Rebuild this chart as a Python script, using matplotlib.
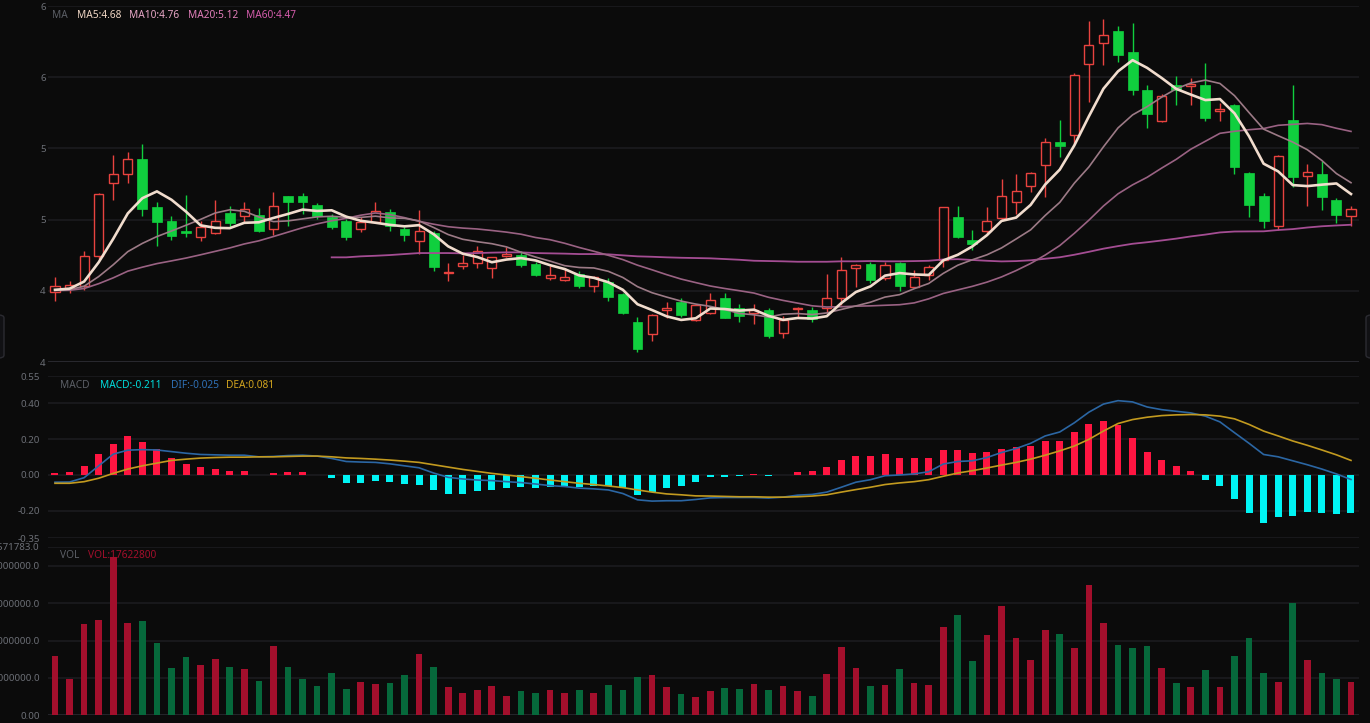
import numpy as np
import pandas as pd
import matplotlib
matplotlib.use("Agg")
import matplotlib.pyplot as plt
from matplotlib.ticker import FuncFormatter, FixedFormatter, FixedLocator
from matplotlib.patches import FancyBboxPatch

# daily OHLC (90 sessions)
opens = [3.995, 4.019, 4.035, 4.246, 4.756, 4.817, 4.927, 4.587, 4.488, 4.418,
         4.376, 4.404, 4.545, 4.528, 4.535, 4.434, 4.664, 4.664, 4.606, 4.516,
         4.493, 4.434, 4.481, 4.556, 4.434, 4.347, 4.406, 4.127, 4.171, 4.192,
         4.157, 4.244, 4.253, 4.188, 4.087, 4.075, 4.117, 4.035, 4.059, 3.977,
         3.784, 3.695, 3.864, 3.918, 3.793, 3.843, 3.946, 3.878, 3.843, 3.866,
         3.702, 3.869, 3.864, 3.878, 3.946, 4.157, 4.188, 4.089, 4.195, 4.028,
         4.110, 4.216, 4.516, 4.357, 4.418, 4.512, 4.627, 4.739, 4.885, 5.045,
         5.096, 5.596, 5.737, 5.826, 5.678, 5.408, 5.192, 5.448, 5.437, 5.448,
         5.261, 5.308, 4.826, 4.669, 4.453, 5.197, 4.805, 4.817, 4.638, 4.523]
closes = [4.035, 4.042, 4.246, 4.681, 4.822, 4.927, 4.575, 4.486, 4.387, 4.404,
          4.446, 4.488, 4.474, 4.575, 4.423, 4.599, 4.627, 4.627, 4.528, 4.446,
          4.376, 4.481, 4.559, 4.453, 4.394, 4.418, 4.164, 4.132, 4.195, 4.277,
          4.235, 4.258, 4.183, 4.113, 4.110, 4.099, 4.035, 4.099, 3.958, 3.843,
          3.594, 3.831, 3.878, 3.831, 3.901, 3.937, 3.812, 3.824, 3.864, 3.683,
          3.796, 3.878, 3.805, 3.946, 4.146, 4.183, 4.075, 4.183, 4.035, 4.099,
          4.164, 4.587, 4.380, 4.329, 4.493, 4.664, 4.704, 4.826, 5.045, 5.016,
          5.514, 5.725, 5.796, 5.655, 5.408, 5.244, 5.369, 5.413, 5.455, 5.216,
          5.279, 4.869, 4.606, 4.493, 4.946, 4.798, 4.833, 4.657, 4.535, 4.575]
highs = [4.094, 4.070, 4.277, 4.685, 4.951, 4.974, 5.028, 4.627, 4.523, 4.676,
         4.493, 4.638, 4.592, 4.627, 4.582, 4.697, 4.669, 4.685, 4.615, 4.540,
         4.505, 4.516, 4.627, 4.575, 4.446, 4.568, 4.423, 4.192, 4.251, 4.317,
         4.239, 4.305, 4.282, 4.199, 4.176, 4.160, 4.136, 4.103, 4.087, 3.988,
         3.817, 3.840, 3.918, 3.946, 3.901, 3.984, 3.984, 3.906, 3.906, 3.878,
         3.824, 3.883, 3.883, 4.117, 4.239, 4.188, 4.199, 4.199, 4.204, 4.146,
         4.183, 4.587, 4.594, 4.427, 4.587, 4.782, 4.817, 4.833, 5.075, 5.197,
         5.526, 5.897, 5.906, 5.859, 5.878, 5.448, 5.385, 5.507, 5.491, 5.601,
         5.319, 5.315, 4.833, 4.685, 4.951, 5.444, 4.892, 4.911, 4.653, 4.592]
lows = [3.930, 3.988, 4.005, 4.223, 4.638, 4.756, 4.528, 4.317, 4.357, 4.380,
        4.347, 4.399, 4.451, 4.474, 4.411, 4.394, 4.458, 4.540, 4.505, 4.432,
        4.357, 4.411, 4.474, 4.418, 4.347, 4.258, 4.141, 4.066, 4.153, 4.157,
        4.087, 4.239, 4.164, 4.106, 4.075, 4.066, 4.023, 3.995, 3.930, 3.836,
        3.573, 3.648, 3.812, 3.817, 3.789, 3.836, 3.808, 3.784, 3.765, 3.667,
        3.671, 3.817, 3.784, 3.847, 3.901, 4.028, 4.052, 4.075, 4.000, 4.019,
        4.075, 4.164, 4.371, 4.286, 4.404, 4.498, 4.540, 4.692, 4.657, 4.939,
        5.033, 5.326, 5.589, 5.608, 5.373, 5.146, 5.185, 5.303, 5.303, 5.192,
        5.192, 4.822, 4.516, 4.441, 4.427, 4.728, 4.599, 4.568, 4.474, 4.458]

# moving average values at the start (window reaches before the visible range)
ma5_head = [4.007, 4.015, 4.065, 4.200]
ma10_head = [4.004, 4.008, 4.032, 4.100, 4.183, 4.275, 4.333, 4.381, 4.420]
ma20_head = [4.002, 4.004, 4.016, 4.050, 4.091, 4.138, 4.166, 4.191, 4.210, 4.230,
             4.253, 4.277, 4.301, 4.329, 4.351, 4.381, 4.412, 4.443, 4.470]
ma60_start = 19
ma60_head = [4.235, 4.235, 4.242, 4.246, 4.251, 4.258, 4.265, 4.265, 4.265, 4.263,
             4.265, 4.268, 4.270, 4.270, 4.265, 4.263, 4.261, 4.258, 4.258, 4.256,
             4.249, 4.242, 4.239, 4.235, 4.232, 4.230, 4.228, 4.223, 4.218, 4.211,
             4.209, 4.207, 4.204, 4.204, 4.204, 4.207, 4.207, 4.209, 4.207, 4.207]

macd_hist = [0.011, 0.018, 0.048, 0.117, 0.174, 0.215, 0.185, 0.143, 0.097, 0.062,
             0.042, 0.031, 0.020, 0.022, 0.002, 0.009, 0.015, 0.017, 0.001, -0.018,
             -0.042, -0.042, -0.033, -0.039, -0.050, -0.053, -0.084, -0.105, -0.106, -0.090,
             -0.081, -0.070, -0.068, -0.070, -0.068, -0.068, -0.066, -0.059, -0.062, -0.073,
             -0.110, -0.095, -0.072, -0.061, -0.037, -0.013, -0.009, -0.006, 0.003, -0.007,
             -0.002, 0.015, 0.020, 0.042, 0.081, 0.108, 0.108, 0.116, 0.097, 0.092,
             0.092, 0.141, 0.141, 0.123, 0.130, 0.147, 0.154, 0.163, 0.189, 0.189,
             0.240, 0.284, 0.299, 0.277, 0.206, 0.127, 0.081, 0.048, 0.024, -0.028,
             -0.059, -0.132, -0.209, -0.264, -0.233, -0.226, -0.206, -0.209, -0.217, -0.211]
dif = [-0.040, -0.039, -0.015, 0.051, 0.116, 0.138, 0.141, 0.139, 0.130, 0.121,
       0.114, 0.112, 0.110, 0.110, 0.101, 0.103, 0.108, 0.110, 0.105, 0.092,
       0.075, 0.072, 0.070, 0.062, 0.051, 0.040, 0.011, -0.013, -0.022, -0.028,
       -0.031, -0.037, -0.042, -0.050, -0.059, -0.064, -0.073, -0.077, -0.083, -0.103,
       -0.138, -0.145, -0.143, -0.143, -0.136, -0.127, -0.125, -0.125, -0.125, -0.128,
       -0.123, -0.112, -0.108, -0.095, -0.068, -0.040, -0.026, -0.004, 0.000, 0.006,
       0.018, 0.061, 0.075, 0.079, 0.097, 0.125, 0.147, 0.176, 0.217, 0.239,
       0.290, 0.349, 0.394, 0.413, 0.406, 0.378, 0.363, 0.354, 0.345, 0.327,
       0.295, 0.235, 0.176, 0.114, 0.101, 0.079, 0.057, 0.033, 0.006, -0.025]
dea = [-0.046, -0.046, -0.037, -0.018, 0.009, 0.033, 0.051, 0.066, 0.081, 0.088,
       0.094, 0.097, 0.099, 0.099, 0.101, 0.101, 0.103, 0.105, 0.105, 0.101,
       0.095, 0.092, 0.088, 0.083, 0.077, 0.070, 0.057, 0.044, 0.031, 0.020,
       0.009, 0.000, -0.009, -0.018, -0.028, -0.037, -0.046, -0.053, -0.061, -0.070,
       -0.083, -0.095, -0.105, -0.110, -0.116, -0.117, -0.119, -0.121, -0.121, -0.123,
       -0.123, -0.121, -0.117, -0.110, -0.095, -0.081, -0.068, -0.053, -0.044, -0.037,
       -0.026, -0.007, 0.011, 0.024, 0.039, 0.055, 0.070, 0.088, 0.110, 0.134,
       0.161, 0.198, 0.244, 0.286, 0.308, 0.321, 0.330, 0.334, 0.336, 0.334,
       0.327, 0.312, 0.281, 0.244, 0.217, 0.189, 0.165, 0.139, 0.112, 0.081]

# volume in millions of shares
vol_m = [7.90, 4.85, 12.18, 12.71, 21.22, 12.31, 12.62, 9.74, 6.29, 7.77,
         6.72, 7.60, 6.46, 6.20, 4.63, 9.30, 6.46, 4.89, 3.93, 5.68,
         3.58, 4.50, 4.19, 4.37, 5.37, 8.17, 6.46, 3.76, 2.93, 3.41,
         3.97, 2.62, 3.19, 2.93, 3.36, 2.93, 3.41, 2.97, 4.06, 3.41,
         5.07, 5.41, 3.76, 2.79, 2.45, 3.28, 3.67, 3.58, 4.15, 3.36,
         3.97, 3.32, 2.62, 5.59, 9.08, 6.29, 3.93, 4.10, 6.24, 4.28,
         4.06, 11.83, 13.49, 7.29, 10.70, 14.63, 10.31, 7.47, 11.48, 10.83,
         9.04, 17.51, 12.40, 9.43, 9.00, 9.26, 6.33, 4.37, 3.80, 6.11,
         3.80, 7.99, 10.31, 5.72, 4.45, 14.98, 7.42, 5.72, 4.85, 4.41]

price_ticks = [3.5, 4.0, 4.5, 5.0, 5.5, 6.0]
macd_ticks = [-0.35, -0.20, 0.00, 0.20, 0.40, 0.55]
vol_ticks = [0, 5000000, 10000000, 15000000, 20000000, 22571783]
vol_tick_labels = ["0.00", "5000000.0", "10000000.0", "15000000.0", "20000000.0", "22571783.0"]

ma_labels = ["MA5:4.68", "MA10:4.76", "MA20:5.12", "MA60:4.47"]
macd_labels = ["MACD:-0.211", "DIF:-0.025", "DEA:0.081"]
vol_label = "VOL:17622800"

# ---------------------------------------------------------------
o = np.array(opens)
c = np.array(closes)
h = np.array(highs)
l = np.array(lows)
vol = np.array(vol_m) * 1e6
hist = np.array(macd_hist)
n = len(c)
x = np.arange(n)
up = c >= o

cs = pd.Series(c)
ma5 = cs.rolling(5).mean().to_numpy()
ma5[:len(ma5_head)] = ma5_head
ma10 = cs.rolling(10).mean().to_numpy()
ma10[:len(ma10_head)] = ma10_head
ma20 = cs.rolling(20).mean().to_numpy()
ma20[:len(ma20_head)] = ma20_head
ma60 = cs.rolling(60).mean().to_numpy()
ma60[ma60_start:ma60_start + len(ma60_head)] = ma60_head

bg = '#0b0b0b'
grid_c = '#1d1d21'
txt_c = '#6c6f76'
up_c = '#e8433f'
down_c = '#10cf3e'

plt.rcParams['font.family'] = ['Noto Sans', 'DejaVu Sans']

W, H = 1370, 723
fig = plt.figure(figsize=(W / 100, H / 100), dpi=100, facecolor=bg)


def add_panel(top, bottom):
    a = fig.add_axes([48 / W, 1 - bottom / H, (1359 - 48) / W, (bottom - top) / H])
    a.set_facecolor(bg)
    a.set_xlim(-0.48, n - 0.45)
    for s in a.spines.values():
        s.set_visible(False)
    a.tick_params(axis='x', bottom=False, labelbottom=False)
    a.tick_params(axis='y', length=0, colors=txt_c, labelsize=7)
    a.grid(axis='y', color=grid_c, lw=1.1)
    a.set_axisbelow(True)
    return a


ax1 = add_panel(6, 362)
ax2 = add_panel(376, 538)
ax3 = add_panel(546.7, 715.3)

# candles
ax1.vlines(x, l, h, colors=np.where(up, up_c, down_c), lw=1, zorder=2)
ax1.bar(x[up], (c - o)[up], bottom=o[up], width=0.62, facecolor=bg,
        edgecolor=up_c, lw=1, zorder=3)
ax1.bar(x[~up], (o - c)[~up], bottom=c[~up], width=0.68, color=down_c,
        edgecolor=down_c, lw=0.5, zorder=3)

ax1.plot(x, ma60, color='#a44d93', lw=1.3, zorder=4)
ax1.plot(x, ma20, color='#9a6283', lw=1.2, zorder=4)
ax1.plot(x, ma10, color='#9c7a86', lw=1.2, zorder=4)
ax1.plot(x, ma5, color='#f1dccd', lw=1.9, zorder=5)

ax1.set_ylim(3.5, 6.0)
ax1.yaxis.set_major_locator(FixedLocator(price_ticks))
ax1.yaxis.set_major_formatter(FuncFormatter(lambda v, p: str(int(v + 0.5))))
ax1.tick_params(axis='y', pad=1.5)
ax1.axhline(3.5, color='#2a2a31', lw=1.3, zorder=1)

# MACD
ax2.bar(x, hist, width=0.48, color=np.where(hist >= 0, '#ff1541', '#00f4f4'), zorder=2)
ax2.plot(x, dif, color='#2b66a3', lw=1.2, zorder=3)
ax2.plot(x, dea, color='#c29a1f', lw=1.2, zorder=3)
ax2.set_ylim(-0.35, 0.55)
ax2.yaxis.set_major_locator(FixedLocator(macd_ticks))
ax2.yaxis.set_major_formatter(FuncFormatter(lambda v, p: f"{v:.2f}"))
ax2.tick_params(axis='y', pad=6)

# volume
ax3.bar(x, vol, width=0.46, color=np.where(up, '#a30f2c', '#06683b'), zorder=2)
ax3.set_ylim(0, vol_ticks[-1])
ax3.yaxis.set_major_locator(FixedLocator(vol_ticks))
ax3.yaxis.set_major_formatter(FixedFormatter(vol_tick_labels))
ax3.tick_params(axis='y', pad=6)
ax3.axhline(0, color='#26262c', lw=1.3, zorder=1)

# panel captions
tf = fig.transFigure
fs = 7.3
ax1.text(52 / W, 1 - 15 / H, "MA", color='#5c5f66', fontsize=fs, fontweight='bold',
         va='center', transform=tf)
for xp, s, col in zip([77, 129, 188, 246], ma_labels,
                      ['#f0d6c4', '#e7a6c6', '#e37fbb', '#d45cab']):
    ax1.text(xp / W, 1 - 15 / H, s, color=col, fontsize=fs, va='center', transform=tf)

ax2.text(60 / W, 1 - 385 / H, "MACD", color='#5c5f66', fontsize=fs, fontweight='bold',
         va='center', transform=tf)
for xp, s, col in zip([100, 171, 226], macd_labels, ['#00dede', '#2f70b5', '#d2a41e']):
    ax2.text(xp / W, 1 - 385 / H, s, color=col, fontsize=fs, va='center', transform=tf)

ax3.text(60 / W, 1 - 555 / H, "VOL", color='#5c5f66', fontsize=fs, fontweight='bold',
         va='center', transform=tf, zorder=1)
ax3.text(88 / W, 1 - 555 / H, vol_label, color='#a30f2c', fontsize=fs,
         va='center', transform=tf, zorder=1)

# scroll handles at the window edges
for x0 in (-8, 1366):
    fig.add_artist(FancyBboxPatch((x0 / W, 1 - 358 / H), 12 / W, 43 / H,
                                  boxstyle="round,pad=0,rounding_size=0.004",
                                  transform=tf, facecolor='#111114',
                                  edgecolor='#2b2b31', lw=1))

fig.savefig("out.png", dpi=100, facecolor=bg)
